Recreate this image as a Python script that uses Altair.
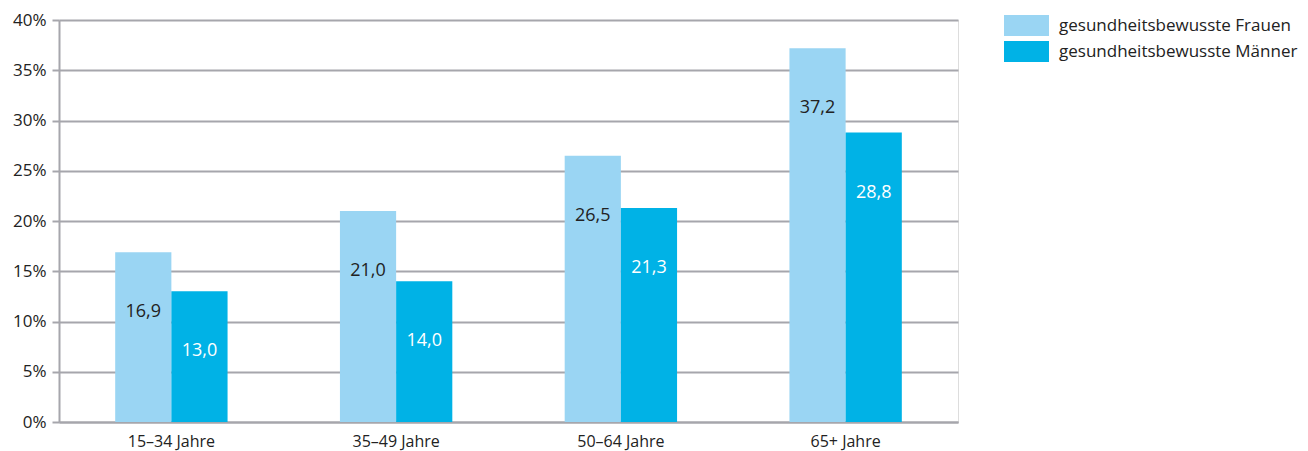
import altair as alt
import pandas as pd

categories = ["15–34 Jahre", "35–49 Jahre", "50–64 Jahre", "65+ Jahre"]
series = ["gesundheitsbewusste Frauen", "gesundheitsbewusste Männer"]
frauen = [16.9, 21.0, 26.5, 37.2]
maenner = [13.0, 14.0, 21.3, 28.8]
colors = ["#9AD5F3", "#00B2E6"]
y_ticks = [0, 5, 10, 15, 20, 25, 30, 35, 40]

rows = []
for i, c in enumerate(categories):
    rows.append({"cat": c, "series": series[0], "value": frauen[i],
                 "label": f"{frauen[i]:.1f}".replace(".", ",")})
    rows.append({"cat": c, "series": series[1], "value": maenner[i],
                 "label": f"{maenner[i]:.1f}".replace(".", ",")})
df = pd.DataFrame(rows)

FONT = "Open Sans"
GRID = "#A6A6AC"
TXT = "#222222"

x = alt.X("cat:N", sort=categories, title=None,
          scale=alt.Scale(paddingInner=0.5, paddingOuter=0.25),
          axis=alt.Axis(labelAngle=0, ticks=False, labelPadding=11, labelFontSize=16,
                        labelColor=TXT, labelFont=FONT, domainColor=GRID, domainWidth=2))
xo = alt.XOffset("series:N", sort=series)
y = alt.Y("value:Q", title=None,
          scale=alt.Scale(domain=[0, 40], nice=False),
          axis=alt.Axis(values=y_ticks, labelExpr="datum.value + '%'", tickSize=7,
                        tickColor=GRID, tickWidth=2, labelPadding=6, labelFontSize=17,
                        labelColor=TXT, labelFont=FONT, gridColor=GRID, gridWidth=2,
                        domainColor=GRID, domainWidth=2))

# wide rectangle drawn with a small nominal symbol size
symbol_path = "M-2,-0.933H2V0.933H-2Z"

bars = alt.Chart(df).mark_bar().encode(
    x=x, xOffset=xo, y=y,
    color=alt.Color("series:N", sort=series,
                    scale=alt.Scale(domain=series, range=colors),
                    legend=alt.Legend(title=None, orient="none", legendX=956, legendY=-6,
                                      symbolType=symbol_path, symbolSize=506,
                                      symbolStrokeWidth=0, symbolOpacity=1,
                                      labelFontSize=17, labelFont=FONT, labelColor=TXT,
                                      labelOffset=21, rowPadding=4, symbolOffset=0,
                                      labelLimit=400, padding=0)),
)

text = alt.Chart(df).mark_text(baseline="middle", dy=60, fontSize=18, font=FONT).encode(
    x=alt.X("cat:N", sort=categories), xOffset=xo,
    y=alt.Y("value:Q"),
    text="label:N",
    color=alt.Color("series:N", sort=series,
                    scale=alt.Scale(domain=series, range=[TXT, "#FFFFFF"]),
                    legend=None),
)

chart = alt.layer(bars, text).resolve_scale(color="independent").properties(
    width=899, height=402,
    autosize=alt.AutoSizeParams(type="none"),
    padding={"left": 51, "top": 12, "right": 340, "bottom": 31},
).configure_view(
    fill="#F0F0F2", stroke=GRID, strokeWidth=2
).configure(background="white")

chart.save("out.html", embed_options={"renderer": "svg", "actions": False})
